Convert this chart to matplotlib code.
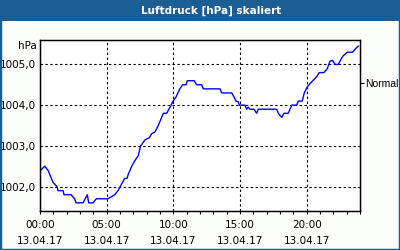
import matplotlib
matplotlib.use("Agg")
import matplotlib.pyplot as plt
from matplotlib.patches import Rectangle
from matplotlib.ticker import MultipleLocator

# hours since 13.04.17 00:00 and pressure in hPa
hours = [0.05, 0.35, 0.6, 0.98, 1.28, 1.35, 1.73, 1.8, 2.33, 2.6, 2.7, 3.23, 3.55, 3.65,
         3.98, 4.22, 5.1, 5.6, 5.85, 6.1, 6.35, 6.53, 6.62, 6.88, 7.12, 7.37, 7.55, 7.88,
         8.2, 8.38, 8.62, 8.87, 9.25, 9.5, 9.75, 9.95, 10.2, 10.5, 10.7, 10.95, 11.05,
         11.57, 11.75, 12.13, 12.25, 13.5, 13.63, 14.38, 14.55, 14.7, 14.87, 14.95, 15.38,
         15.5, 15.62, 15.75, 16.05, 16.25, 16.37, 17.75, 17.87, 18.13, 18.3, 18.62, 18.88,
         19.25, 19.37, 19.67, 19.82, 20.05, 20.25, 20.75, 20.95, 21.3, 21.55, 21.75, 21.95,
         22.13, 22.37, 22.7, 23.05, 23.45, 23.7, 23.87]
pressure = [1002.4, 1002.5, 1002.4, 1002.1, 1002.0, 1001.9, 1001.9, 1001.8, 1001.8, 1001.7,
            1001.6, 1001.6, 1001.8, 1001.6, 1001.6, 1001.7, 1001.7, 1001.8, 1001.9, 1002.05,
            1002.2, 1002.2, 1002.3, 1002.5, 1002.64, 1002.76, 1003.0, 1003.15, 1003.2, 1003.3,
            1003.34, 1003.5, 1003.8, 1003.8, 1003.95, 1004.08, 1004.2, 1004.41, 1004.5, 1004.5,
            1004.6, 1004.6, 1004.5, 1004.5, 1004.4, 1004.4, 1004.3, 1004.3, 1004.2, 1004.1,
            1004.08, 1004.0, 1004.0, 1003.9, 1003.95, 1003.9, 1003.9, 1003.8, 1003.9, 1003.9,
            1003.8, 1003.7, 1003.8, 1003.8, 1004.0, 1004.0, 1004.1, 1004.1, 1004.3, 1004.45,
            1004.53, 1004.7, 1004.8, 1004.8, 1004.9, 1005.08, 1005.1, 1005.0, 1005.0, 1005.2,
            1005.3, 1005.3, 1005.4, 1005.45]

xticks = [0, 5, 10, 15, 20]
xlabels = ["00:00\n13.04.17", "05:00\n13.04.17", "10:00\n13.04.17",
           "15:00\n13.04.17", "20:00\n13.04.17"]
yticks = [1002, 1003, 1004, 1005]
ylabels = ["1002,0", "1003,0", "1004,0", "1005,0"]
normal = 1004.54

blue = "#1b5e94"
fs = 7.5

fig = plt.figure(figsize=(4, 2.5), dpi=100, facecolor="#fbfefb")
ax = fig.add_axes([0.1, 0.156, 0.8, 0.684])
ax.set_facecolor("white")

ax.plot(hours, pressure, color="#0000ff", lw=1)
ax.set_xlim(0, 24)
ax.set_ylim(1001.4, 1005.6)

ax.set_xticks(xticks)
ax.set_xticklabels(xlabels, fontsize=fs, linespacing=1.75)
ax.xaxis.set_minor_locator(MultipleLocator(1))
ax.tick_params(axis="x", which="both", direction="out", length=2.5, width=0.8, pad=4)
ax.set_yticks(yticks)
ax.set_yticklabels(ylabels, fontsize=fs)
ax.tick_params(axis="y", length=0, pad=3)

ax.grid(True, color="black", lw=0.8, linestyle=(0, (2.2, 2.2)))
for s in ax.spines.values():
    s.set_linewidth(1)

ax2 = ax.twinx()
ax2.set_ylim(ax.get_ylim())
ax2.set_yticks([normal])
ax2.set_yticklabels(["Normal"], fontsize=7.5, family="Liberation Sans")
ax2.tick_params(axis="y", length=3, width=0.8, pad=1)

fig.text(37 / 400, 1 - 46 / 250, "hPa", fontsize=fs, ha="right", va="center")

# title bar and frame
fig.patches.append(Rectangle((0, 1 - 21 / 250), 1, 21 / 250, transform=fig.transFigure,
                             facecolor=blue, edgecolor="none", zorder=0))
fig.patches.append(Rectangle((0, 0), 1, 1, transform=fig.transFigure, facecolor="none",
                             edgecolor=blue, lw=2.5, zorder=5))
fig.text(211 / 400, 1 - 10.5 / 250, "Luftdruck [hPa] skaliert", color="white",
         fontsize=7.5, fontweight="bold", ha="center", va="center")

fig.savefig("out.png", dpi=100, facecolor=fig.get_facecolor())
